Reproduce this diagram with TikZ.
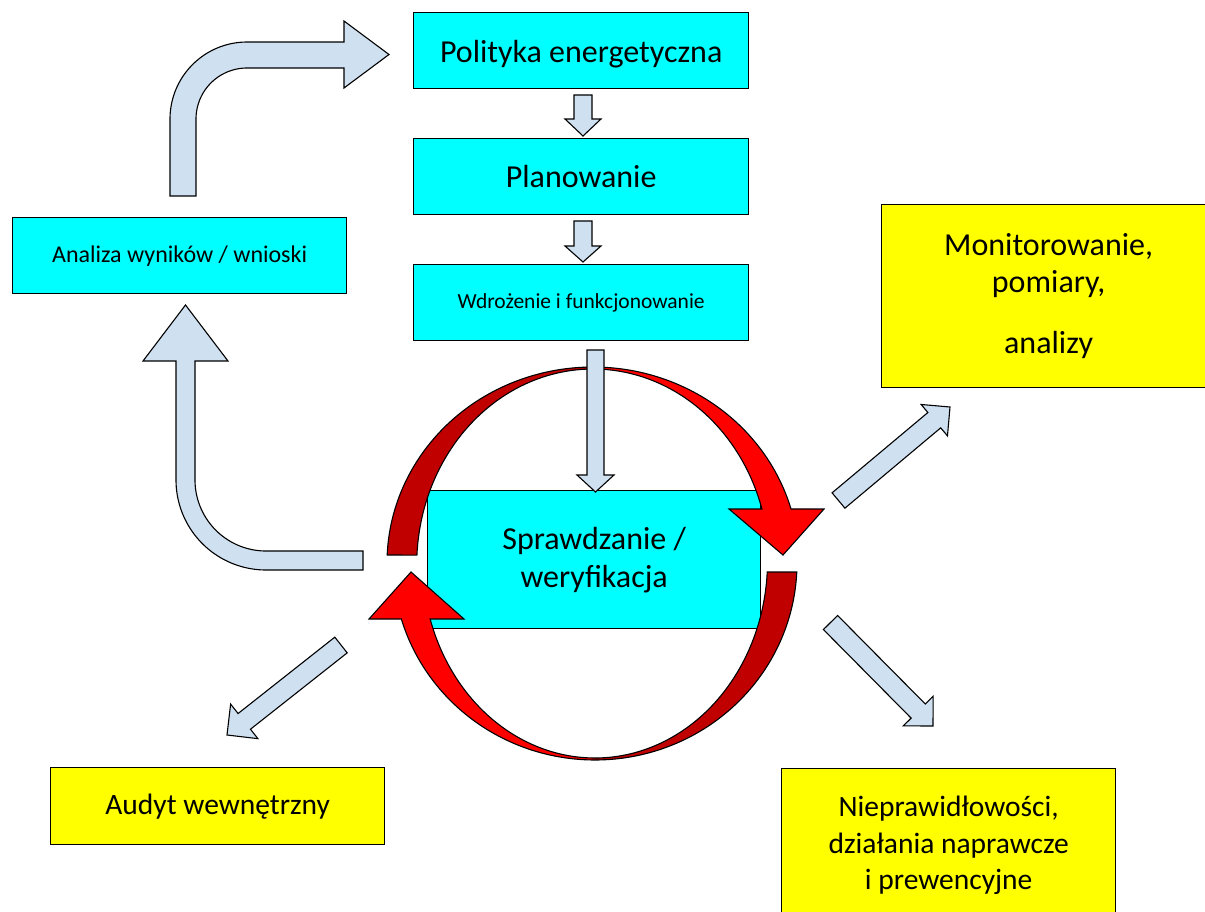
\documentclass[tikz,border=0pt]{standalone}
\usepackage{fontspec}
\setmainfont{Carlito}
\usetikzlibrary{calc}
\definecolor{cyanbox}{RGB}{0,255,255}
\definecolor{yellowbox}{RGB}{255,255,0}
\definecolor{arrowblue}{RGB}{207,224,241}
\definecolor{darkred}{RGB}{192,0,0}
\definecolor{brightred}{RGB}{255,0,0}
\newcommand{\fsBig}{\fontsize{32}{38}\selectfont}
\newcommand{\fsMon}{\fontsize{32}{37}\selectfont}
\newcommand{\fsYel}{\fontsize{29.5}{36.5}\selectfont}
\newcommand{\fsSmall}{\fontsize{21.5}{26}\selectfont}
\newcommand{\fsAnal}{\fontsize{24}{28}\selectfont}
% block arrow: #1 tail coord, #2 tip coord, #3 half shaft, #4 half head, #5 head length
\newcommand{\blockarr}[5]{%
  \draw[barrow] let \p1 = ($(#2)!#5!(#1)$) in
    ($(#1)!#3!90:(#2)$) -- ($(\p1)!#3!90:(#2)$) -- ($(\p1)!#4!90:(#2)$) -- (#2)
    -- ($(\p1)!#4!-90:(#2)$) -- ($(\p1)!#3!-90:(#2)$) -- ($(#1)!#3!-90:(#2)$) -- cycle;}
\begin{document}
\begin{tikzpicture}[x=1pt,y=-1pt,
  box/.style={draw=black, line width=1.3pt, inner sep=0pt, align=center, anchor=north west},
  cbox/.style={box, fill=cyanbox, minimum width=335pt, minimum height=76pt},
  ybox/.style={box, fill=yellowbox, minimum width=334pt},
  barrow/.style={draw=black, line width=1.1pt, fill=arrowblue, line join=miter},
  redline/.style={draw=black, line width=1.1pt, line join=miter}]
\useasboundingbox (0,0) rectangle (1205,911);
\clip (0,0) rectangle (1205,911);

% ---- cyan boxes
\node[cbox] (pol) at (413,12) {};
\node[font=\fsBig] (poltext) at ([yshift=-3pt]pol.center) {Polityka energetyczna};
\node[cbox, font=\fsBig] (plan) at (413,138) {Planowanie};
\node[cbox, font=\fsSmall] (wdr) at (413,264) {Wdrożenie i funkcjonowanie};
\node[cbox, font=\fsAnal, minimum width=334pt] (anal) at (12,217) {Analiza wyników / wnioski};

% ---- yellow boxes
\node[ybox, font=\fsMon, minimum height=183pt] (mon) at (881,204) {Monitorowanie,\\ pomiary,\\[24pt] analizy};
\node[ybox, font=\fsYel, minimum height=77pt] (aud) at (50,767) {Audyt wewnętrzny};
\node[ybox, font=\fsYel, minimum height=154pt] (nie) at (781,768) {Nieprawidłowości,\\ działania naprawcze\\ i prewencyjne};

% ---- small vertical arrows
\coordinate (a1s) at (583,95);  \coordinate (a1e) at (583,136);
\coordinate (a2s) at (583,221); \coordinate (a2e) at (583,262);
\blockarr{a1s}{a1e}{9pt}{18pt}{17pt}
\blockarr{a2s}{a2e}{9pt}{18pt}{16pt}

% ---- bent arrow: Analiza -> Polityka
\draw[barrow] (170,196) -- (170,119)
  -- plot[domain=180:270, samples=40] ({247+77*cos(\x)},{119+77*sin(\x)})
  -- (344,42) -- (344,21) -- (389,54.5) -- (344,88) -- (344,68)
  -- plot[domain=270:180, samples=40] ({247+51*cos(\x)},{119+51*sin(\x)})
  -- (196,196) -- cycle;

% ---- bent arrow: Sprawdzanie -> Analiza
\draw[barrow] (363,570) -- (266,570)
  -- plot[domain=90:180, samples=40] ({266+90*cos(\x)},{480+90*sin(\x)})
  -- (176,361) -- (143,361) -- (185.5,305) -- (228,361) -- (195,361)
  -- plot[domain=180:90, samples=40] ({266+71*cos(\x)},{480+71*sin(\x)})
  -- (363,551) -- cycle;

% ---- diagonal arrows
\coordinate (neS) at (838.5,500.5); \coordinate (neE) at (950,407);
\coordinate (seS) at (830.5,622.5); \coordinate (seE) at (933,726);
\coordinate (swS) at (341,645);     \coordinate (swE) at (227,735);
\blockarr{neS}{neE}{10pt}{20.5pt}{20.5pt}
\blockarr{seS}{seE}{10pt}{21pt}{21pt}
\blockarr{swS}{swE}{10pt}{22pt}{22pt}

% ---- central box
\node[box, fill=cyanbox, minimum width=333pt, minimum height=138pt, font=\fsBig] (spr) at (427,490) {Sprawdzanie /\\ weryfikacja};

% ---- red circular arrows (top)
\fill[darkred] plot[domain=182.34:270, samples=60] ({593+206*cos(\x)},{563+196*sin(\x)})
  -- plot[domain=270:182.9, samples=60] ({593+176.3*cos(\x)},{565+196*sin(\x)}) -- cycle;
\fill[brightred] plot[domain=270:344, samples=60] ({593+206*cos(\x)},{563+196*sin(\x)})
  -- (824,509) -- (783,555) -- (729,509)
  -- plot[domain=343.4:270, samples=60] ({593+176.3*cos(\x)},{565+196*sin(\x)}) -- cycle;
\draw[redline] plot[domain=182.34:344, samples=120] ({593+206*cos(\x)},{563+196*sin(\x)})
  -- (824,509) -- (783,555) -- (729,509)
  -- plot[domain=343.4:182.9, samples=120] ({593+176.3*cos(\x)},{565+196*sin(\x)}) -- cycle;

% ---- red circular arrows (bottom)
\fill[darkred] plot[domain=2.62:90, samples=60] ({595+202*cos(\x)},{563+197*sin(\x)})
  -- plot[domain=90:3.2, samples=60] ({595+172.5*cos(\x)},{561+197*sin(\x)}) -- cycle;
\fill[brightred] plot[domain=90:163.48, samples=60] ({595+202*cos(\x)},{563+197*sin(\x)})
  -- (369,619) -- (411,572) -- (464,619)
  -- plot[domain=162.88:90, samples=60] ({595+172.5*cos(\x)},{561+197*sin(\x)}) -- cycle;
\draw[redline] plot[domain=2.62:163.48, samples=120] ({595+202*cos(\x)},{563+197*sin(\x)})
  -- (369,619) -- (411,572) -- (464,619)
  -- plot[domain=162.88:3.2, samples=120] ({595+172.5*cos(\x)},{561+197*sin(\x)}) -- cycle;

% ---- long vertical arrow into Sprawdzanie
\coordinate (a3s) at (595.5,350); \coordinate (a3e) at (595.5,492);
\blockarr{a3s}{a3e}{8.5pt}{18.5pt}{17pt}
\end{tikzpicture}
\end{document}
